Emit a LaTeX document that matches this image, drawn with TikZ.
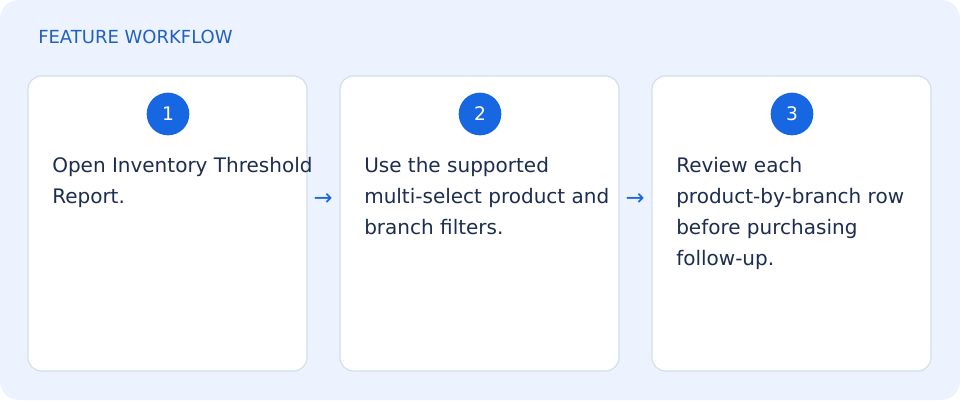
\documentclass[tikz,border=0pt]{standalone}
\usepackage{fontspec}
\setmainfont{DejaVu Sans}
\definecolor{PanelBg}{RGB}{237,243,254}
\definecolor{PanelLine}{RGB}{220,230,248}
\definecolor{CardLine}{RGB}{210,222,240}
\definecolor{StepBlue}{RGB}{24,103,226}
\definecolor{TitleBlue}{RGB}{32,96,192}
\definecolor{InkNavy}{RGB}{28,45,80}
\tikzset{
  card/.style={draw=CardLine,fill=white,rounded corners=10pt,line width=0.9pt},
  badge/.style={circle,fill=StepBlue,text=white,minimum size=32pt,inner sep=0pt,font=\fontsize{14}{16}\selectfont},
  steptext/.style={anchor=north west,align=left,inner sep=0pt,text=InkNavy,font=\fontsize{15}{23.25}\selectfont},
  flow/.style={text=StepBlue,font=\fontsize{17}{18}\selectfont,inner sep=0pt}
}
\begin{document}
\begin{tikzpicture}[x=0.75pt,y=-0.75pt]

  \fill[PanelBg,rounded corners=14pt] (0,0) rectangle (960,400);

  \node[anchor=west,inner sep=0pt,text=TitleBlue,font=\fontsize{13.5}{15}\selectfont] (title) at (38,37) {FEATURE WORKFLOW};

  \draw[card] (28,76) rectangle (307,371);
  \draw[card] (340,76) rectangle (619,371);
  \draw[card] (652,76) rectangle (931,371);

  \node[badge] (one) at (168,114) {1};
  \node[badge] (two) at (480,114) {2};
  \node[badge] (three) at (792,114) {3};

  \node[steptext] (txtone) at (52,157) {Open Inventory Threshold\\Report.};
  \node[steptext] (txttwo) at (364,157) {Use the supported\\multi-select product and\\branch filters.};
  \node[steptext] (txtthree) at (676,157) {Review each\\product-by-branch row\\before purchasing\\follow-up.};

  \node[flow] (arrowone) at (323,200) {→};
  \node[flow] (arrowtwo) at (635,200) {→};

\end{tikzpicture}
\end{document}
